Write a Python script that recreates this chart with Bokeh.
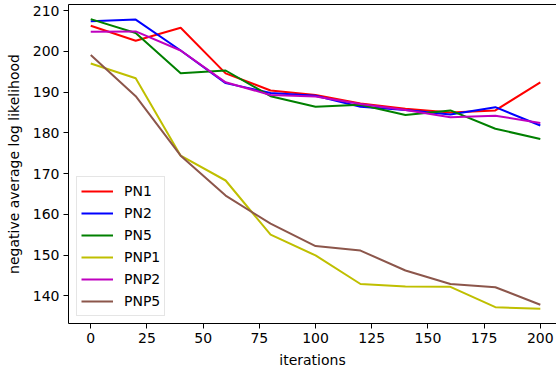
from bokeh.plotting import figure
from bokeh.models import Legend, LegendItem, FixedTicker, LinearAxis, Range1d
from bokeh.embed import file_html
from bokeh.resources import INLINE

iterations = [0, 20, 40, 60, 80, 100, 120, 140, 160, 180, 200]
pn1 = [206.3, 202.6, 205.8, 194.6, 190.4, 189.3, 187.2, 185.9, 185.0, 185.5, 192.4]
pn2 = [207.4, 207.8, 200.2, 192.2, 189.8, 189.1, 186.4, 185.6, 184.5, 186.3, 181.8]
pn5 = [207.9, 204.5, 194.6, 195.3, 189.0, 186.4, 186.9, 184.4, 185.5, 181.0, 178.5]
pnp1 = [197.0, 193.4, 174.4, 168.3, 155.0, 149.9, 142.9, 142.3, 142.2, 137.2, 136.8]
pnp2 = [204.8, 204.9, 200.2, 192.4, 189.3, 188.9, 187.1, 185.6, 183.8, 184.2, 182.4]
pnp5 = [199.1, 189.0, 174.4, 164.6, 157.7, 152.2, 151.1, 146.2, 142.9, 142.1, 137.8]

series_names = ["PN1", "PN2", "PN5", "PNP1", "PNP2", "PNP5"]
series_values = [pn1, pn2, pn5, pnp1, pnp2, pnp5]
colors = ["#ff0000", "#0000ff", "#008000", "#bfbf00", "#bf00bf", "#8c564b"]

x_ticks = [0, 25, 50, 75, 100, 125, 150, 175, 200]
y_ticks = [140, 150, 160, 170, 180, 190, 200, 210]

FONT = "DejaVu Sans"
FS = "14px"

p = figure(width=556, height=370, output_backend="svg", toolbar_location=None,
           x_range=Range1d(-9.9, 207.2), y_range=Range1d(133.2, 211.5),
           min_border_left=68, min_border_right=0, min_border_top=4, min_border_bottom=47,
           x_axis_label="iterations", y_axis_label="negative average log likelihood")
p.grid.visible = False
p.outline_line_color = None
p.background_fill_color = "white"
p.border_fill_color = "white"

p.xaxis.ticker = FixedTicker(ticks=x_ticks)
p.yaxis.ticker = FixedTicker(ticks=y_ticks)
for ax in (p.xaxis, p.yaxis):
    ax.minor_tick_line_color = None
    ax.major_tick_in = 0
    ax.major_tick_out = 5
    ax.major_tick_line_color = "black"
    ax.major_tick_line_width = 1
    ax.axis_line_color = "black"
    ax.axis_line_width = 1
    ax.major_label_text_font = FONT
    ax.major_label_text_font_size = FS
    ax.major_label_text_color = "black"
    ax.axis_label_text_font = FONT
    ax.axis_label_text_font_size = FS
    ax.axis_label_text_font_style = "normal"
    ax.axis_label_text_color = "black"
    ax.major_label_standoff = 4
p.yaxis.axis_label_standoff = 8
p.xaxis.axis_label_standoff = 6

top = LinearAxis(ticker=FixedTicker(ticks=[]), axis_line_color="black", axis_line_width=1,
                 major_tick_line_color=None, minor_tick_line_color=None,
                 major_label_text_font_size="0px", major_tick_out=0, major_tick_in=0)
p.add_layout(top, "above")

items = []
for name, vals, c in zip(series_names, series_values, colors):
    r = p.line(iterations, vals, line_color=c, line_width=2)
    items.append(LegendItem(label=name, renderers=[r]))

legend = Legend(items=items, location=(8, 7), label_text_font=FONT, label_text_font_size=FS,
                label_text_color="black", glyph_width=32, glyph_height=20, label_height=20,
                spacing=2, padding=4, margin=0, label_standoff=11,
                border_line_color="#cccccc", border_line_width=1,
                background_fill_color="white", background_fill_alpha=0.8)
p.add_layout(legend, "center")

open("out.html", "w").write(file_html(p, INLINE))
